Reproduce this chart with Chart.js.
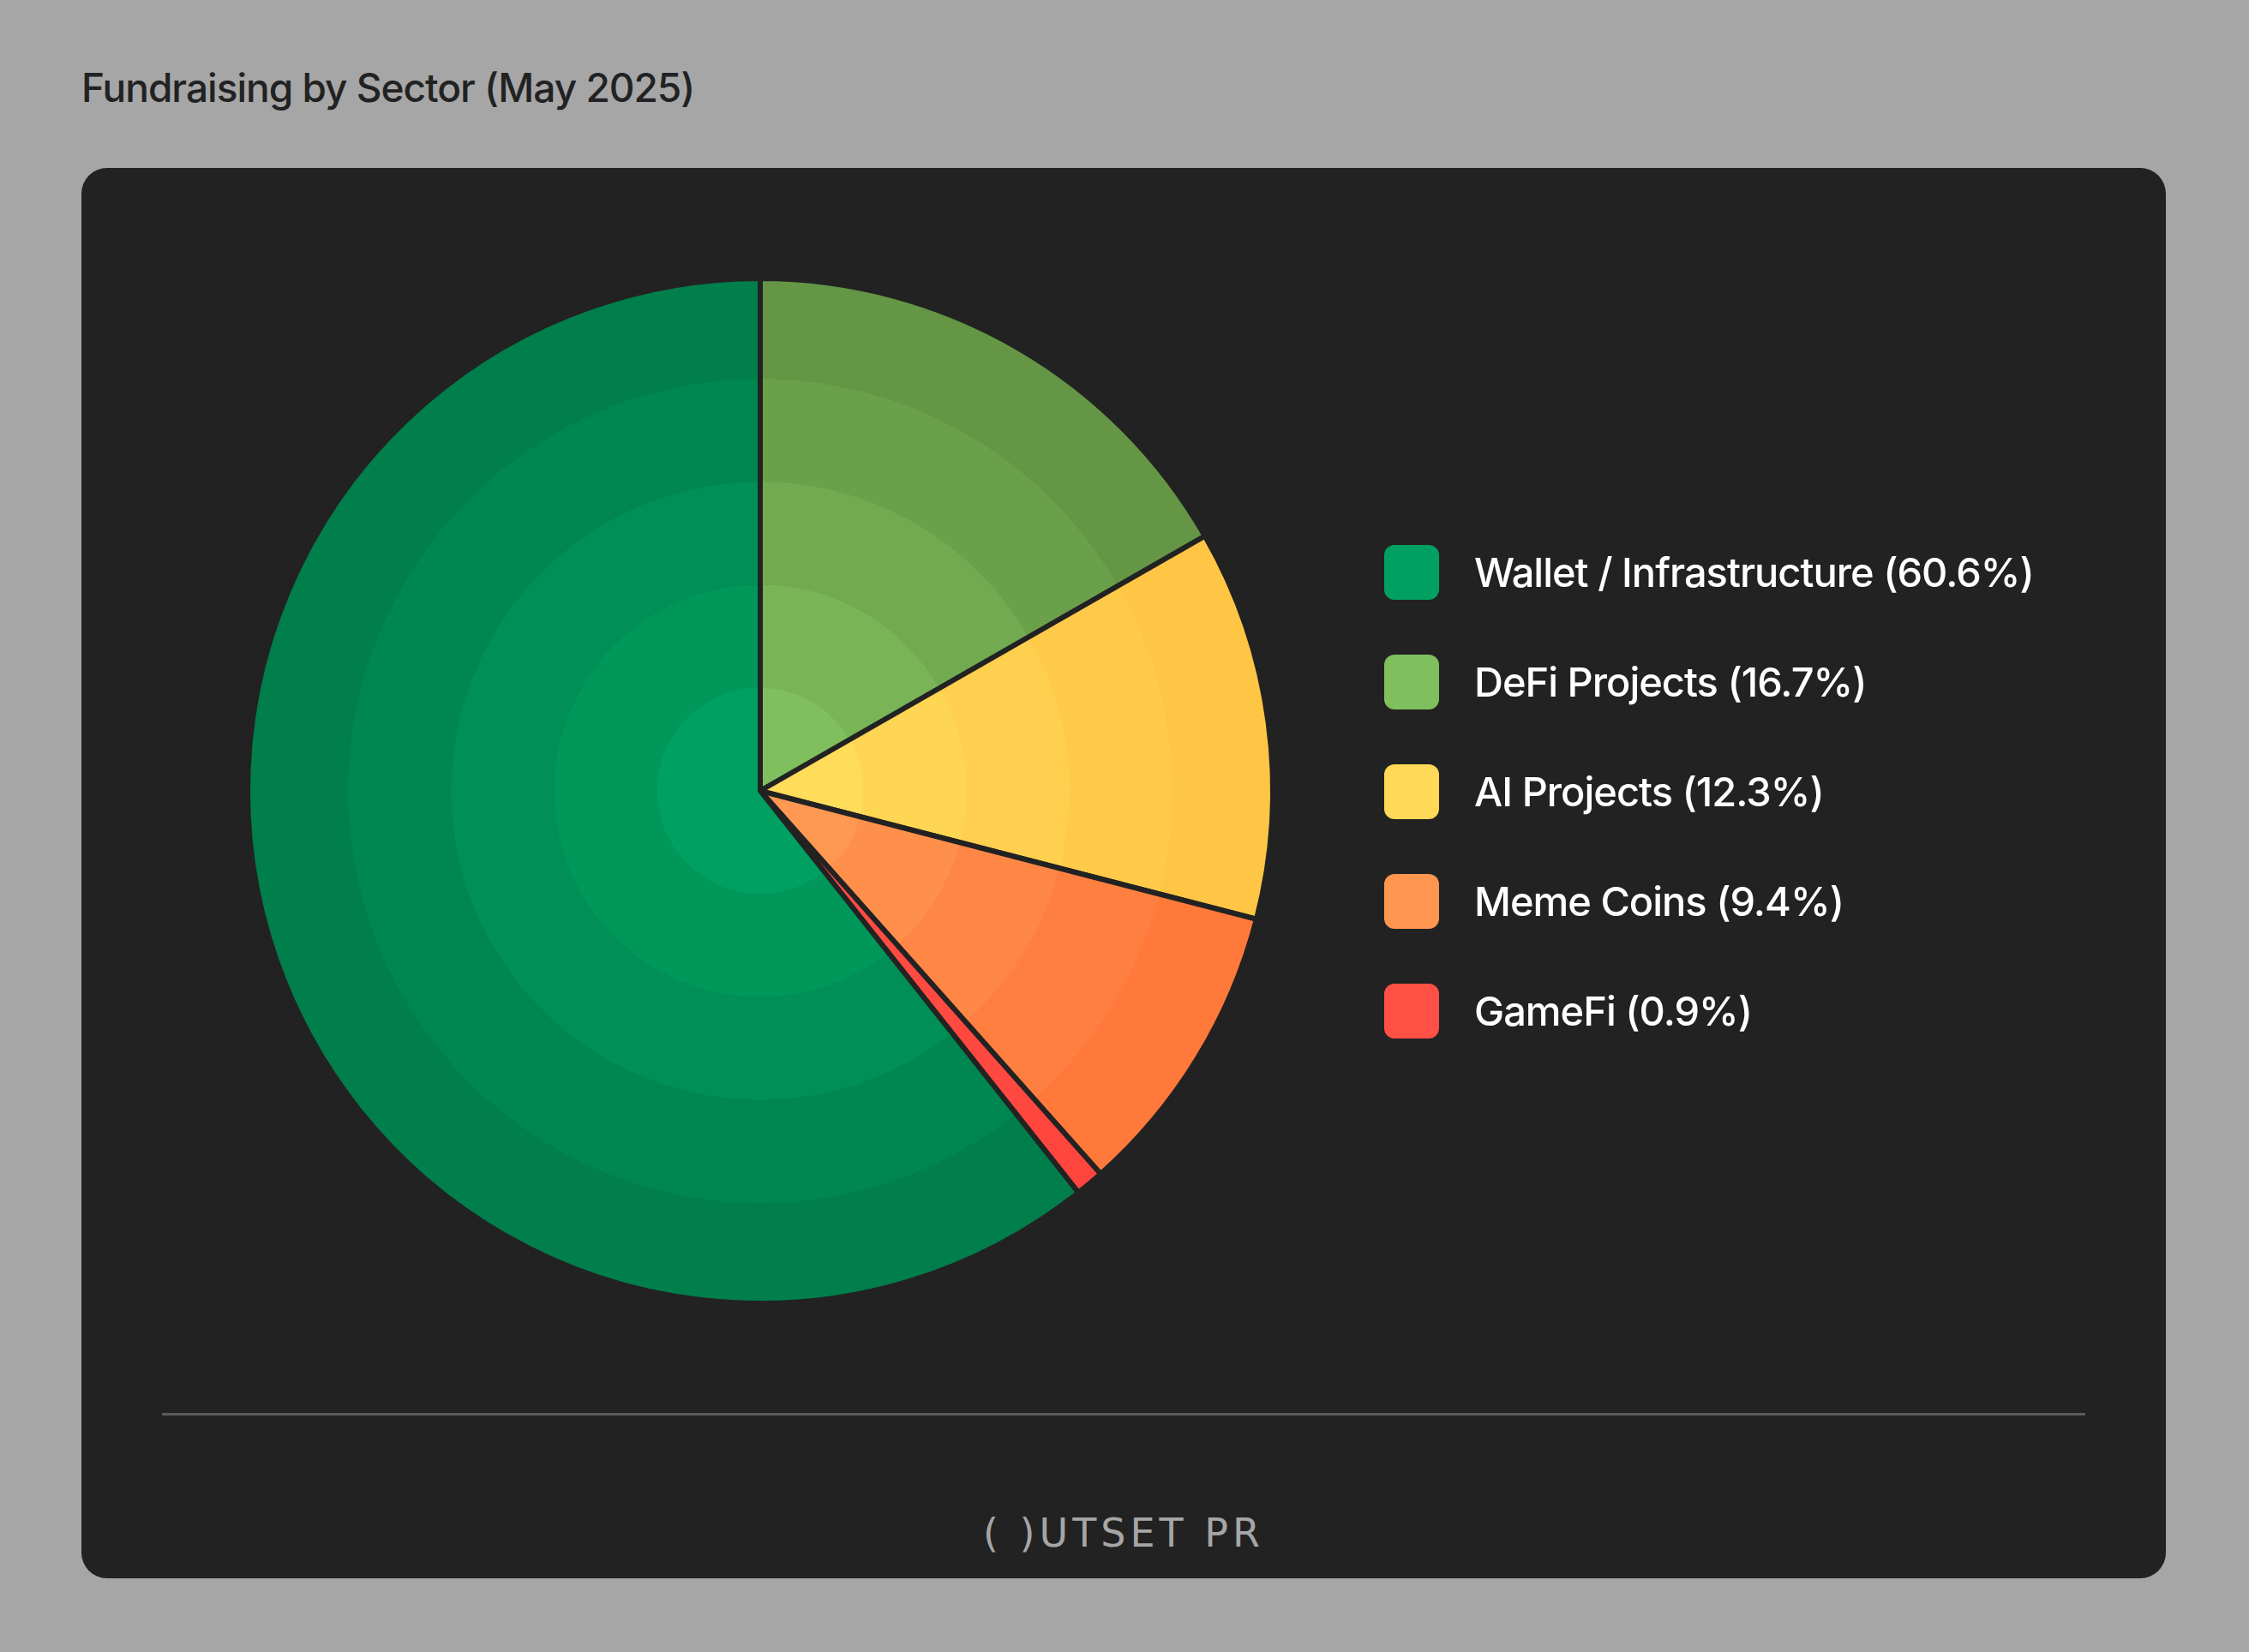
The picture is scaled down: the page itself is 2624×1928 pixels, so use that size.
<!DOCTYPE html>
<html><head><meta charset="utf-8">
<script src="https://cdn.jsdelivr.net/npm/chart.js@4.4.1/dist/chart.umd.min.js"></script>
<style>
html,body{margin:0;padding:0;background:#a6a6a6;width:2624px;height:1928px;overflow:hidden;font-family:Inter,"Noto Sans",sans-serif;}
#title{position:absolute;left:95px;top:74px;font-size:46px;color:#222;letter-spacing:-1px;font-weight:500;}
#panel{position:absolute;left:95px;top:196px;width:2432px;height:1646px;background:#222;border-radius:30px;}
#wrap{position:absolute;left:0;top:0;width:2432px;height:1454px;}
#sep{position:absolute;left:94px;top:1453px;width:2244px;height:3px;background:#5a5a5a;}
#logo{position:absolute;left:0;width:2432px;top:1566px;text-align:center;font-size:46px;color:#a6a6a6;letter-spacing:5px;font-family:"DejaVu Sans",sans-serif;}
#legend{position:absolute;left:1520px;top:440px;}
.item{position:absolute;left:0;height:64px;white-space:nowrap;}
.sw{position:absolute;left:0;top:0;width:64px;height:64px;border-radius:12px;}
.lt{position:absolute;left:105px;top:3px;font-size:47px;color:#fff;letter-spacing:-1px;font-weight:500;}
</style></head><body>
<div id="title">Fundraising by Sector (May 2025)</div>
<div id="panel">
<div id="wrap"><canvas id="c"></canvas></div>
<div id="legend"></div>
<div id="sep"></div>
<div id="logo">( )UTSET PR</div>
</div>
<script>
const categories=["DeFi Projects","AI Projects","Meme Coins","GameFi","Wallet / Infrastructure"];
const values=[16.7,12.3,9.4,0.9,60.6];
const legendOrder=[4,0,1,2,3];
const flatColors=["#80bf5e","#ffd957","#ff964f","#ff5046","#00a062"];
const bandColors=[
 ["#80bf5e","#79b457","#72aa51","#6ba04b","#649645"],
 ["#ffdc5a","#ffd654","#ffd04f","#ffca4a","#ffc545"],
 ["#ff9852","#ff904c","#ff8746","#ff7f40","#ff793b"],
 ["#ff5046","#ff4c44","#ff4a42","#ff4840","#ff463e"],
 ["#00a062","#00975b","#008f56","#008650","#007e4b"]
];
function bg(ctx){
  const ch=ctx.chart, a=ch.chartArea; if(!a) return flatColors[ctx.dataIndex];
  const cx=(a.left+a.right)/2, cy=(a.top+a.bottom)/2, r=Math.min(a.right-a.left,a.bottom-a.top)/2;
  const g=ch.ctx.createRadialGradient(cx,cy,0,cx,cy,r);
  const b=bandColors[ctx.dataIndex];
  for(let i=0;i<5;i++){g.addColorStop(i/5,b[i]);g.addColorStop(Math.min(1,(i+1)/5-0.0001),b[i]);}
  g.addColorStop(1,b[4]);
  return g;
}
new Chart(document.getElementById('c'),{
  type:'pie',
  data:{labels:categories,datasets:[{data:values,backgroundColor:bg,borderColor:'#222',borderWidth:6,hoverOffset:0}]},
  options:{responsive:true,maintainAspectRatio:false,animation:false,
    layout:{padding:{left:191,right:1039,top:126,bottom:126}},
    plugins:{legend:{display:false},tooltip:{enabled:false}}}
});
const lg=document.getElementById('legend');
legendOrder.forEach((k,i)=>{
  const d=document.createElement('div');d.className='item';d.style.top=(i*128)+'px';
  d.innerHTML='<div class="sw" style="background:'+flatColors[k]+'"></div><div class="lt">'+categories[k]+' ('+values[k].toFixed(1)+'%)</div>';
  lg.appendChild(d);
});
</script>
</body></html>
